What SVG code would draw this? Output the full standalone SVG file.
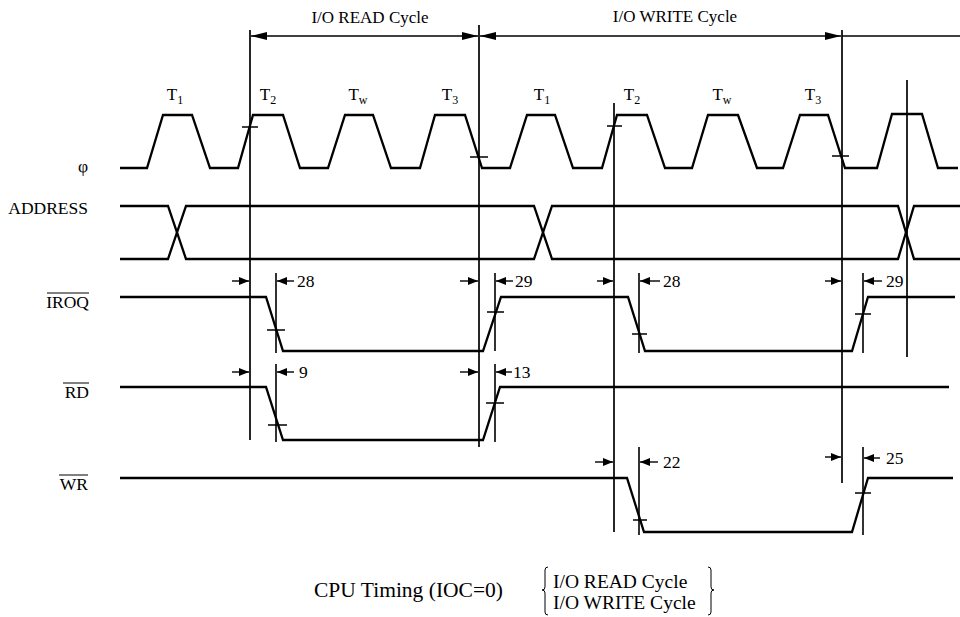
<svg xmlns="http://www.w3.org/2000/svg" width="960" height="617" viewBox="0 0 960 617" font-family="'Liberation Serif', 'Times New Roman', serif">
<defs>
<style>
.sig{fill:none;stroke:#000;stroke-width:2.3;stroke-linejoin:miter}
.ref{fill:none;stroke:#000;stroke-width:1.7}
.tick{fill:none;stroke:#000;stroke-width:1.6}
.arr{fill:none;stroke:#000;stroke-width:1.4}
.br{fill:none;stroke:#000;stroke-width:1}
text{font-family:"Liberation Serif","Times New Roman",serif;fill:#000}
.lbl{font-size:17.5px}
.hd{font-size:17px}
.num{font-size:17.5px}
.cap{font-size:19.5px}
.cap2{font-size:21.5px}
</style>
<marker id="ah" viewBox="0 0 10 8" refX="10" refY="4" markerWidth="10" markerHeight="8" markerUnits="userSpaceOnUse" orient="auto-start-reverse"><path d="M0,0 L10,4 L0,8 Z" fill="#000"/></marker>
<marker id="ahL" viewBox="0 0 16 8" refX="16" refY="4" markerWidth="16" markerHeight="8" markerUnits="userSpaceOnUse" orient="auto-start-reverse"><path d="M0,0 L16,4 L0,8 Z" fill="#000"/></marker>
</defs>
<rect width="960" height="617" fill="#fff"/>

<g id="labels">
<text class="lbl" x="88" y="172" text-anchor="end">φ</text>
<text class="lbl" x="88" y="214" text-anchor="end">ADDRESS</text>
<text class="lbl" x="89" y="308" text-anchor="end">IROQ</text>
<line class="br" x1="47" y1="293" x2="89" y2="293" stroke-width="1.2"/>
<text class="lbl" x="89" y="398" text-anchor="end">RD</text>
<line class="br" x1="63" y1="383" x2="89" y2="383" stroke-width="1.2"/>
<text class="lbl" x="88" y="490" text-anchor="end">WR</text>
<line class="br" x1="59" y1="475" x2="88" y2="475" stroke-width="1.2"/>
</g>

<g id="clock">
<path class="sig" d="M120,168 L147,168 L163,115 L192,115 L210,168 L238,168 L253,115 L283,115 L300,168 L328,168 L345,115 L373,115 L391,168 L420,168 L435,115 L465,115 L482,168 L510,168 L527,115 L555,115 L573,168 L602,168 L617,115 L647,115 L665,168 L692,168 L708,115 L738,115 L757,168 L783,168 L800,115 L828,115 L845,168 L877,168 L892,114 L922,114 L938,168 L958,168"/>
<g class="hd">
<text x="175" y="100" text-anchor="middle">T<tspan font-size="12" dy="4">1</tspan></text>
<text x="268" y="100" text-anchor="middle">T<tspan font-size="12" dy="4">2</tspan></text>
<text x="358" y="100" text-anchor="middle">T<tspan font-size="12" dy="4">w</tspan></text>
<text x="450" y="100" text-anchor="middle">T<tspan font-size="12" dy="4">3</tspan></text>
<text x="542" y="100" text-anchor="middle">T<tspan font-size="12" dy="4">1</tspan></text>
<text x="632" y="100" text-anchor="middle">T<tspan font-size="12" dy="4">2</tspan></text>
<text x="722" y="100" text-anchor="middle">T<tspan font-size="12" dy="4">w</tspan></text>
<text x="813" y="100" text-anchor="middle">T<tspan font-size="12" dy="4">3</tspan></text>
</g>
<path class="tick" d="M242,127 H258 M470,157 H488 M607,126 H622 M832,156 H849 M899,114 H915"/>
</g>

<g id="address">
<path class="sig" d="M120,206 L168,206 L186,259 L534,259 L552,206 L898,206 L914,259 L960,259"/>
<path class="sig" d="M120,259 L168,259 L186,206 L534,206 L552,259 L898,259 L914,206 L960,206"/>
</g>

<g id="iroq">
<path class="sig" d="M120,297 L266,297 L283,351 L483,351 L501,297 L628,297 L645,351 L852,351 L868,297 L955,297"/>
<path class="tick" d="M276,273 V353 M267,330 H285 M495,273 V351 M487,312 H504 M639,273 V353 M632,334 H647 M863,273 V353 M855,314 H871"/>
</g>

<g id="rd">
<path class="sig" d="M120,387 L266,387 L283,440 L483,440 L500,387 L949,387"/>
<path class="tick" d="M276,364 V442 M268,425 H287 M495,364 V442 M486,403 H504"/>
</g>

<g id="wr">
<path class="sig" d="M120,478 L627,478 L644,532 L852,532 L868,478 L953,478"/>
<path class="tick" d="M639,447 V535 M633,520 H647 M863,447 V535 M855,493 H871"/>
</g>

<g id="reference-lines">
<line class="ref" x1="250" y1="30" x2="250" y2="440"/>
<line class="ref" x1="479" y1="25" x2="479" y2="447"/>
<line class="ref" x1="614" y1="103" x2="614" y2="532"/>
<line class="ref" x1="842" y1="30" x2="842" y2="483"/>
<line class="ref" x1="907" y1="80" x2="907" y2="357"/>
</g>

<g id="connectors">
<line class="arr" x1="251" y1="36" x2="478" y2="36" marker-start="url(#ahL)" marker-end="url(#ahL)"/>
<line class="arr" x1="480" y1="36" x2="841" y2="36" marker-start="url(#ahL)" marker-end="url(#ahL)"/>
<line class="arr" x1="842" y1="36" x2="960" y2="36"/>
<line class="arr" x1="232" y1="281" x2="249" y2="281" marker-end="url(#ah)"/>
<line class="arr" x1="294" y1="281" x2="277" y2="281" marker-end="url(#ah)"/>
<line class="arr" x1="460" y1="281" x2="478" y2="281" marker-end="url(#ah)"/>
<line class="arr" x1="513" y1="281" x2="496" y2="281" marker-end="url(#ah)"/>
<line class="arr" x1="597" y1="281" x2="613" y2="281" marker-end="url(#ah)"/>
<line class="arr" x1="660" y1="281" x2="640" y2="281" marker-end="url(#ah)"/>
<line class="arr" x1="825" y1="281" x2="841" y2="281" marker-end="url(#ah)"/>
<line class="arr" x1="882" y1="281" x2="864" y2="281" marker-end="url(#ah)"/>
<line class="arr" x1="232" y1="372" x2="249" y2="372" marker-end="url(#ah)"/>
<line class="arr" x1="294" y1="372" x2="277" y2="372" marker-end="url(#ah)"/>
<line class="arr" x1="460" y1="372" x2="478" y2="372" marker-end="url(#ah)"/>
<line class="arr" x1="512" y1="372" x2="496" y2="372" marker-end="url(#ah)"/>
<line class="arr" x1="595" y1="462" x2="613" y2="462" marker-end="url(#ah)"/>
<line class="arr" x1="658" y1="462" x2="640" y2="462" marker-end="url(#ah)"/>
<line class="arr" x1="825" y1="457" x2="841" y2="457" marker-end="url(#ah)"/>
<line class="arr" x1="880" y1="458" x2="864" y2="458" marker-end="url(#ah)"/>
</g>

<g id="numbers" class="num">
<text x="297" y="287">28</text>
<text x="515" y="287">29</text>
<text x="663" y="287">28</text>
<text x="886" y="287">29</text>
<text x="299" y="378">9</text>
<text x="513" y="378">13</text>
<text x="663" y="468">22</text>
<text x="886" y="464">25</text>
</g>

<g id="headings" class="hd">
<text x="370" y="23" text-anchor="middle">I/O READ Cycle</text>
<text x="675" y="22" text-anchor="middle">I/O WRITE Cycle</text>
</g>

<g id="caption">
<text class="cap2" x="314" y="597">CPU Timing (IOC=0)</text>
<text class="cap" x="553" y="588">I/O READ Cycle</text>
<text class="cap" x="553" y="609">I/O WRITE Cycle</text>
<path class="br" d="M548,567 Q545,567 545,570 L545,587 Q545,590 542,590 Q545,590 545,593 L545,612 Q545,615 548,615"/>
<path class="br" d="M708,567 Q711,567 711,570 L711,587 Q711,590 714,590 Q711,590 711,593 L711,612 Q711,615 708,615"/>
</g>
</svg>
